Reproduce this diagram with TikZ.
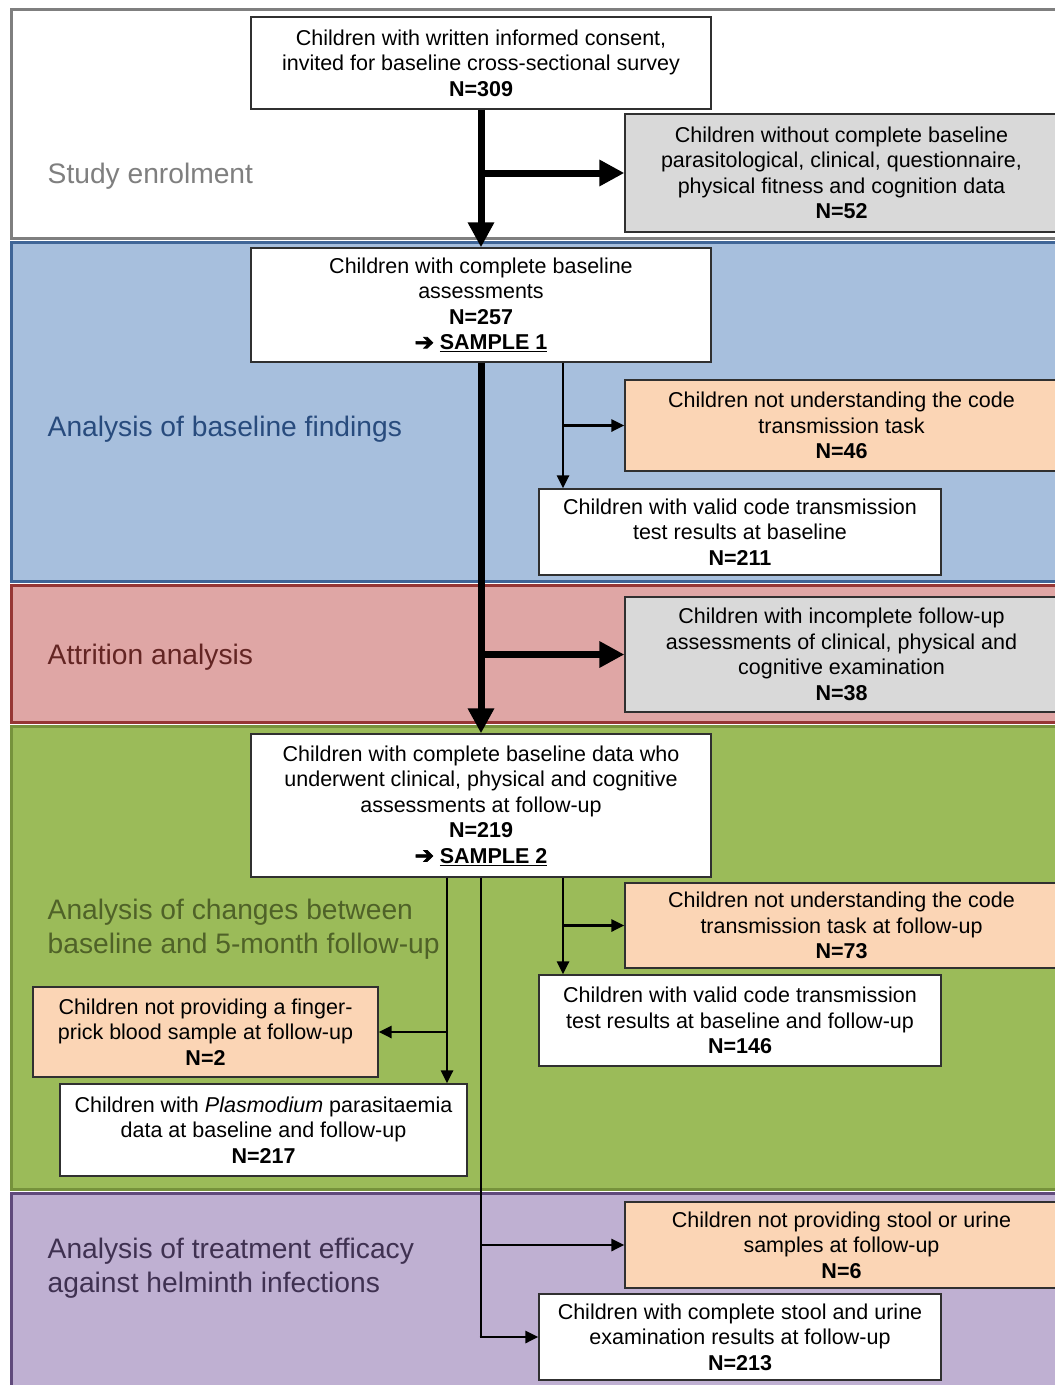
\documentclass[tikz,border=0pt]{standalone}
\usepackage{fontspec}
\setmainfont{Liberation Sans}
\newfontfamily\arrowfont[FakeBold=3]{DejaVu Sans}
\usetikzlibrary{arrows.meta}
\definecolor{bgray}{HTML}{7F7F7F}
\definecolor{bluefill}{HTML}{A7BFDD}
\definecolor{blueline}{HTML}{3F6597}
\definecolor{bluetext}{HTML}{284B7D}
\definecolor{pinkfill}{HTML}{DFA6A5}
\definecolor{pinkline}{HTML}{963735}
\definecolor{pinktext}{HTML}{632523}
\definecolor{greenfill}{HTML}{9BBB59}
\definecolor{greenline}{HTML}{76923C}
\definecolor{greentext}{HTML}{4F6228}
\definecolor{purpfill}{HTML}{BFB0D2}
\definecolor{purpline}{HTML}{604A7B}
\definecolor{purptext}{HTML}{3F3151}
\definecolor{grayfill}{HTML}{D9D9D9}
\definecolor{peachfill}{HTML}{FBD5B5}
\definecolor{boxline}{HTML}{303030}
\newcommand{\samplearrow}{{\arrowfont\fontsize{23}{25.5}\selectfont ➔}}
\begin{document}
\begin{tikzpicture}[x=1pt,y=-1pt,
  band/.style={line width=3pt},
  bandlabel/.style={anchor=west,align=left,inner sep=0pt,font=\fontsize{28.2}{34}\selectfont},
  flowbox/.style={draw=boxline,line width=1.3pt,fill=white,align=center,inner sep=0pt,
    font=\fontsize{21.5}{25.5}\selectfont},
  graybox/.style={flowbox,fill=grayfill},
  peachbox/.style={flowbox,fill=peachfill},
  bigarrow/.style={line width=7pt,-{Triangle[length=25pt,width=25pt]}},
  smallarrow/.style={line width=2.9pt,-{Triangle[length=13pt,width=12pt]}},
  smallline/.style={line width=2.9pt}
]
\useasboundingbox (0,0) rectangle (1055,1385);
\begin{scope}
\clip (0,0) rectangle (1055,1385);
% bands
\draw[band,draw=bgray,fill=white] (11.5,9.5) rectangle (1080,238.5);
\draw[band,draw=blueline,fill=bluefill] (11.5,242) rectangle (1080,581.5);
\draw[band,draw=pinkline,fill=pinkfill] (11.5,585) rectangle (1080,722);
\draw[band,draw=greenline,fill=greenfill] (11.5,726) rectangle (1080,1189.5);
\draw[band,draw=purpline,fill=purpfill] (11.5,1193.5) rectangle (1080,1400);

% band labels
\node[bandlabel,text=bgray] (l1) at (47.5,176) {Study enrolment};
\node[bandlabel,text=bluetext] (l2) at (47.5,429) {Analysis of baseline findings};
\node[bandlabel,text=pinktext] (l3) at (47.5,657) {Attrition analysis};
\node[bandlabel,text=greentext] (l4) at (47.5,929) {Analysis of changes between\\baseline and 5-month follow-up};
\node[bandlabel,text=purptext] (l5) at (47.5,1268) {Analysis of treatment efficacy\\against helminth infections};

% boxes
\node[flowbox,minimum width=460pt,minimum height=92pt] (b1) at (481,63)
  {Children with written informed consent,\\invited for baseline cross-sectional survey\\\textbf{N=309}};
\node[graybox,minimum width=433pt,minimum height=118pt] (b2) at (841.5,173)
  {Children without complete baseline\\parasitological, clinical, questionnaire,\\physical fitness and cognition data\\\textbf{N=52}};
\node[flowbox,minimum width=460pt,minimum height=114pt] (b3) at (481,305)
  {Children with complete baseline\\assessments\\\textbf{N=257}\\\textbf{\samplearrow\ \underline{SAMPLE 1}}};
\node[peachbox,minimum width=433pt,minimum height=91pt] (b4) at (841.5,425.5)
  {Children not understanding the code\\transmission task\\\textbf{N=46}};
\node[flowbox,minimum width=402pt,minimum height=86pt] (b5) at (740,532)
  {Children with valid code transmission\\test results at baseline\\\textbf{N=211}};
\node[graybox,minimum width=433pt,minimum height=115pt] (b6) at (841.5,654.5)
  {Children with incomplete follow-up\\assessments of clinical, physical and\\cognitive examination\\\textbf{N=38}};
\node[flowbox,minimum width=460pt,minimum height=143pt] (b7) at (481,805.5)
  {Children with complete baseline data who\\underwent clinical, physical and cognitive\\assessments at follow-up\\\textbf{N=219}\\\textbf{\samplearrow\ \underline{SAMPLE 2}}};
\node[peachbox,minimum width=433pt,minimum height=85pt] (b8) at (841.5,925.5)
  {Children not understanding the code\\transmission task at follow-up\\\textbf{N=73}};
\node[flowbox,minimum width=402pt,minimum height=91pt] (b9) at (740,1020.5)
  {Children with valid code transmission\\test results at baseline and follow-up\\\textbf{N=146}};
\node[peachbox,minimum width=345pt,minimum height=90pt] (b10) at (205.5,1032)
  {Children not providing a finger-\\prick blood sample at follow-up\\\textbf{N=2}};
\node[flowbox,minimum width=407pt,minimum height=92pt] (b11) at (263.5,1130)
  {Children with \textit{Plasmodium} parasitaemia\\data at baseline and follow-up\\\textbf{N=217}};
\node[peachbox,minimum width=433pt,minimum height=86pt] (b12) at (841.5,1245)
  {Children not providing stool or urine\\samples at follow-up\\\textbf{N=6}};
\node[flowbox,minimum width=402pt,minimum height=86pt] (b13) at (740,1337)
  {Children with complete stool and urine\\examination results at follow-up\\\textbf{N=213}};

% thick connectors
\draw[bigarrow] (b1.south) -- (b3.north);
\draw[bigarrow] (b1.south |- b2.west) -- (b2.west);
\draw[bigarrow] (b3.south) -- (b7.north);
\draw[bigarrow] (b3.south |- b6.west) -- (b6.west);

% thin connectors from sample 1
\coordinate (s1) at ([xshift=82pt]b3.south);
\draw[smallarrow] (s1) -- (s1 |- b5.north);
\draw[smallarrow] (s1 |- b4.west) -- (b4.west);

% thin connectors from sample 2
\coordinate (s2r) at ([xshift=82pt]b7.south);
\draw[smallarrow] (s2r) -- (s2r |- b9.north);
\draw[smallarrow] (s2r |- b8.west) -- (b8.west);
\coordinate (s2l) at ([xshift=-34pt]b7.south);
\draw[smallarrow] (s2l) -- (s2l |- b11.north);
\draw[smallarrow] (s2l |- b10.east) -- (b10.east);
\coordinate (s2m) at (b7.south);
\draw[smallline] (s2m) -- (s2m |- b13.west);
\draw[smallarrow] ([xshift=-1.45pt]s2m |- b13.west) -- (b13.west);
\draw[smallarrow] (s2m |- b12.west) -- (b12.west);
\end{scope}
\end{tikzpicture}
\end{document}
